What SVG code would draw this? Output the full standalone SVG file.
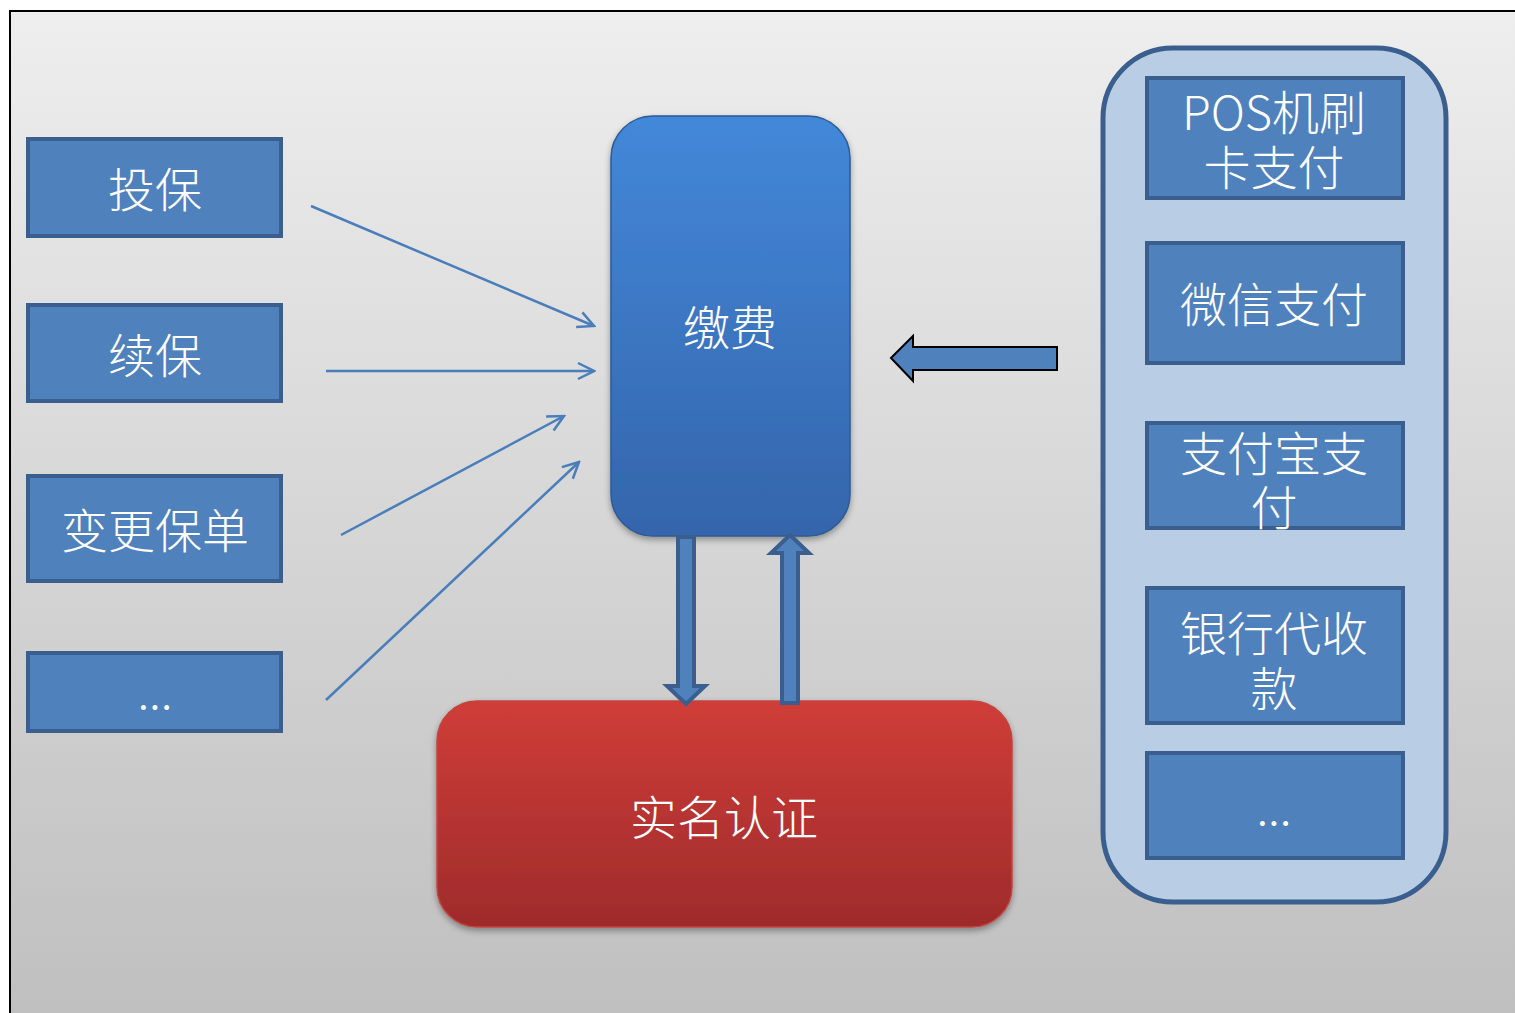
<svg xmlns="http://www.w3.org/2000/svg" width="1515" height="1013" viewBox="0 0 1515 1013">
<style>
.box{fill:#4f81bd;stroke:#3a5f8f;stroke-width:4}
.t{fill:#ffffff;font-family:"Noto Sans CJK SC","Liberation Sans",sans-serif;font-size:47px;font-weight:300;text-anchor:middle;dominant-baseline:central}
.ln{stroke:#4a7ebb;stroke-width:2.5;fill:none;marker-end:url(#open)}
.blk{fill:#4f81bd;stroke:#3a5f8f;stroke-width:4}
</style>
<defs>
<linearGradient id="bg" x1="0" y1="0" x2="0" y2="1"><stop offset="0" stop-color="#eeeeee"/><stop offset="1" stop-color="#bfbfbf"/></linearGradient>
<linearGradient id="blue" x1="0" y1="0" x2="0" y2="1"><stop offset="0" stop-color="#4388d9"/><stop offset="1" stop-color="#3465ab"/></linearGradient>
<linearGradient id="red" x1="0" y1="0" x2="0" y2="1"><stop offset="0" stop-color="#d03d38"/><stop offset="1" stop-color="#9e2b2b"/></linearGradient>
<filter id="sh" x="-10%" y="-10%" width="120%" height="120%"><feDropShadow dx="0" dy="3" stdDeviation="3" flood-color="#000" flood-opacity="0.35"/></filter>
<marker id="open" viewBox="0 0 20 20" refX="18" refY="10" markerWidth="20" markerHeight="20" markerUnits="userSpaceOnUse" orient="auto"><path d="M2,2 L18,10 L2,18" fill="none" stroke="#4a7ebb" stroke-width="2.5"/></marker>
</defs>
<rect x="10" y="11" width="1510" height="1010" fill="url(#bg)" stroke="#000" stroke-width="2"/>

<g id="n-toubao"><rect class="box" x="28" y="139" width="253" height="97"/><text class="t" x="155" y="186">投保</text></g>
<g id="n-xubao"><rect class="box" x="28" y="305" width="253" height="96"/><text class="t" x="155" y="352">续保</text></g>
<g id="n-biangeng"><rect class="box" x="28" y="476" width="253" height="105"/><text class="t" x="155" y="527">变更保单</text></g>
<g id="n-more1"><rect class="box" x="28" y="653" width="253" height="78"/><text class="t" x="155" y="688">...</text></g>

<g id="n-jiaofei"><rect x="611" y="116" width="239" height="420" rx="42" fill="url(#blue)" stroke="#2f5a94" stroke-width="1.5" filter="url(#sh)"/><text class="t" x="730" y="324">缴费</text></g>

<g id="n-shiming"><rect x="437" y="701" width="575" height="226" rx="40" fill="url(#red)" stroke="#c24440" stroke-width="1.5" filter="url(#sh)"/><text class="t" x="724" y="814">实名认证</text></g>

<g id="n-pay">
<rect x="1103" y="48" width="343" height="854" rx="70" fill="#b9cde4" stroke="#3a5f8f" stroke-width="5"/>
<g id="n-pos"><rect class="box" x="1147" y="78" width="256" height="120"/><text class="t" x="1274" y="109">POS机刷<tspan x="1274" dy="55">卡支付</tspan></text></g>
<g id="n-wechat"><rect class="box" x="1147" y="243" width="256" height="120"/><text class="t" x="1274" y="301">微信支付</text></g>
<g id="n-alipay"><rect class="box" x="1147" y="423" width="256" height="105"/><text class="t" x="1274" y="450">支付宝支<tspan x="1274" dy="54">付</tspan></text></g>
<g id="n-bank"><rect class="box" x="1147" y="588" width="256" height="135"/><text class="t" x="1274" y="630">银行代收<tspan x="1274" dy="55">款</tspan></text></g>
<g id="n-more2"><rect class="box" x="1147" y="753" width="256" height="105"/><text class="t" x="1274" y="804">...</text></g>
</g>

<g id="connectors">
<line class="ln" x1="311" y1="206" x2="594" y2="326"/>
<line class="ln" x1="326" y1="371" x2="594" y2="371"/>
<line class="ln" x1="341" y1="535" x2="564" y2="416"/>
<line class="ln" x1="326" y1="700" x2="579" y2="462"/>
<path d="M891,358 L913,336 L913,347 L1057,347 L1057,370 L913,370 L913,381 Z" fill="#4f81bd" stroke="#000" stroke-width="2"/>
<path class="blk" d="M678,537 L694,537 L694,686 L705,686 L686,704 L667,686 L678,686 Z"/>
<path class="blk" d="M782,703 L798,703 L798,553 L809,553 L790,535 L771,553 L782,553 Z"/>
</g>
</svg>
